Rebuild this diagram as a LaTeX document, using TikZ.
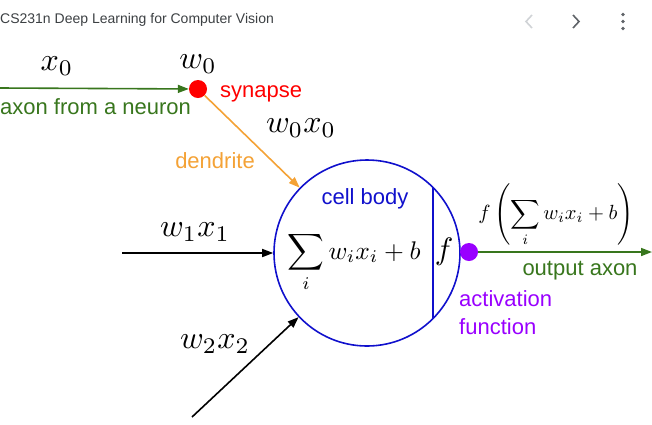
\documentclass[tikz,border=0pt]{standalone}
\usepackage{fontspec}
\setsansfont{Liberation Sans}
\usetikzlibrary{arrows.meta, positioning}
\definecolor{axonGreen}{HTML}{38761D}
\definecolor{synRed}{HTML}{FF0000}
\definecolor{dendOrange}{HTML}{F4A236}
\definecolor{bodyBlue}{HTML}{1010CC}
\definecolor{actPurple}{HTML}{9900FF}
\definecolor{hdrGray}{HTML}{3C4043}
\definecolor{navGray}{HTML}{5F6368}
\definecolor{navLight}{HTML}{D0D3D6}

\begin{document}
\begin{tikzpicture}[
    x=1pt, y=-1pt,
    lbl/.style={font=\sffamily\fontsize{22}{26}\selectfont, inner sep=0pt},
    mathlbl/.style={scale=3.2, inner sep=0pt},
    dot/.style={circle, minimum size=18pt, inner sep=0pt},
    wire/.style={line width=1.6pt, -{Triangle[length=11pt,width=8pt]}},
  ]
    \useasboundingbox (0,0) rectangle (652,424);

    % header bar
    \node[font=\sffamily\fontsize{14}{16}\selectfont, text=hdrGray, anchor=west,
          inner sep=0pt] (title) at (0,20) {CS231n Deep Learning for Computer Vision};
    \draw[navLight, line width=1.6pt] (532,15) -- (526,21.5) -- (532,28);
    \draw[navGray, line width=1.6pt] (573,15) -- (579,21.5) -- (573,28);
    \fill[navGray] (623,14.5) circle (1.9pt) (623,21.5) circle (1.9pt) (623,28.5) circle (1.9pt);

    % neuron
    \node[circle, draw=bodyBlue, line width=1.6pt, minimum size=186pt] (body) at (367,253) {};
    \draw[bodyBlue, line width=1.6pt] (433,187.5) -- (433,318.5);
    \node[dot, fill=synRed] (syn) at (198,89) {};
    \node[dot, fill=actPurple] (act) at (469,252) {};

    \coordinate (axin) at (0,88);
    \coordinate (in1) at (122,253);
    \coordinate (in2) at (192,417);
    \coordinate (axout) at (652,252);

    \draw[wire, axonGreen] (axin) -- (syn);
    \draw[wire, dendOrange] (syn) -- (body);
    \draw[wire, black] (in1) -- (body);
    \draw[wire, black] (in2) -- (body);
    \draw[wire, axonGreen] (act) -- (axout);

    % labels
    \node[mathlbl] (x0) at (57,66) {$x_0$};
    \node[mathlbl] (w0) at (198,64) {$w_0$};
    \node[mathlbl] (w0x0) at (301,128) {$w_0x_0$};
    \node[mathlbl] (w1x1) at (195,232) {$w_1x_1$};
    \node[mathlbl] (w2x2) at (215,344) {$w_2x_2$};
    \node[lbl, text=synRed, anchor=west] (synlbl) at (220,94) {synapse};
    \node[lbl, text=axonGreen, anchor=west] (axlbl) at (0,107) {axon from a neuron};
    \node[lbl, text=dendOrange] (dendlbl) at (215,161) {dendrite};
    \node[lbl, text=bodyBlue] (bodylbl) at (365,199) {cell body};
    \node[lbl, text=axonGreen] (outlbl) at (580,271) {output axon};
    \node[lbl, text=actPurple, anchor=north west, align=left,
          font=\sffamily\fontsize{22}{28}\selectfont] (actlbl) at (459,290) {activation\\function};
    \node[scale=2.55, inner sep=0pt, anchor=base] (sum) at (354,259)
      {$\displaystyle\sum_i w_ix_i+b$};
    \node[scale=3.1, inner sep=0pt, anchor=base] (fin) at (444,259) {$f$};
    \node[scale=2.05, inner sep=0pt] (fout) at (556,215)
      {$f\left(\displaystyle\sum_i w_ix_i+b\right)$};
\end{tikzpicture}
\end{document}
